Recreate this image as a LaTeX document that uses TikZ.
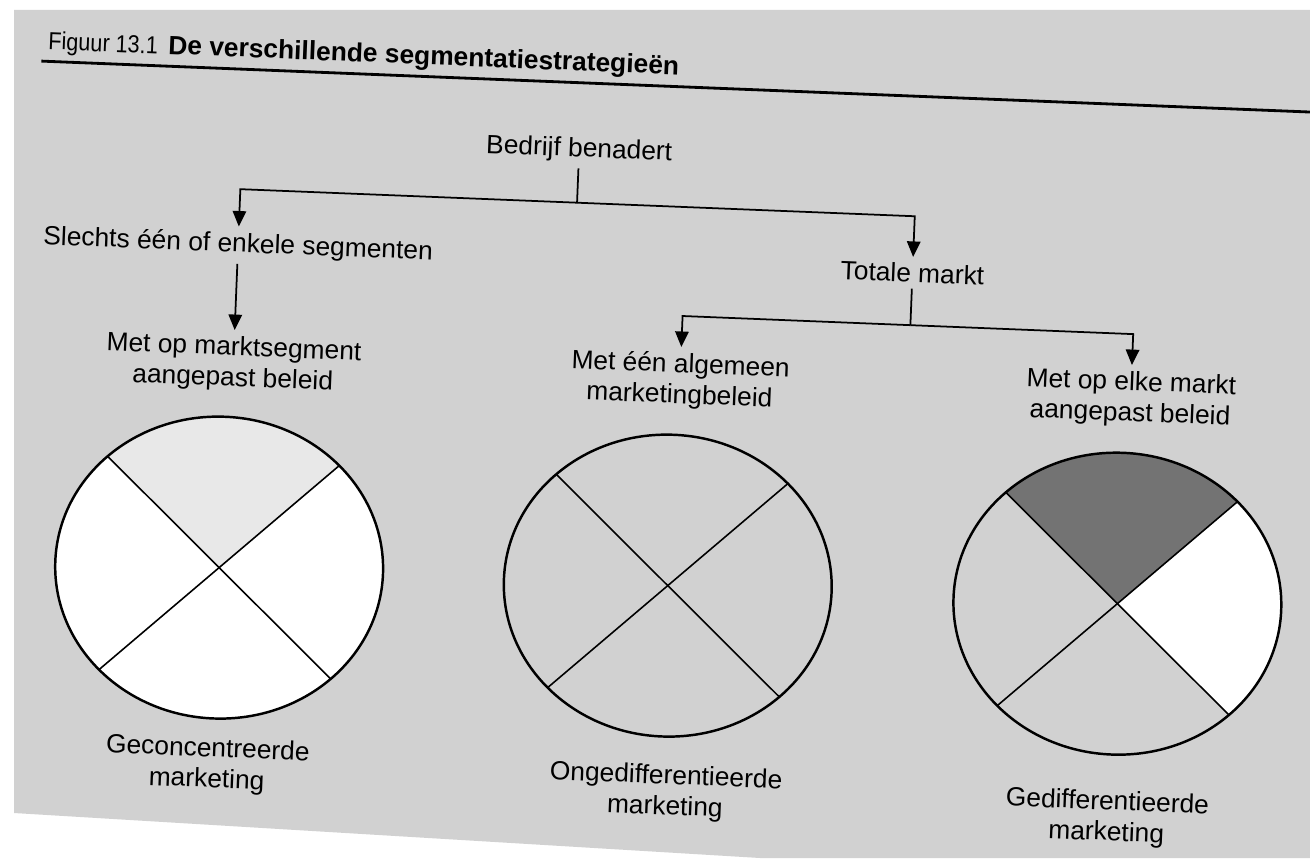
\documentclass[tikz,border=0pt]{standalone}
\usepackage{fontspec}
\setmainfont{Liberation Sans}
\newfontfamily\narrowfig{Liberation Sans}[FakeStretch=0.88]
\usetikzlibrary{arrows.meta,calc}
\definecolor{paper}{gray}{0.82}
\definecolor{lightq}{gray}{0.91}
\definecolor{darkq}{gray}{0.45}

\begin{document}
\begin{tikzpicture}[x=0.02cm,y=-0.02cm,
	lbl/.style={font=\fontsize{15}{17.5}\selectfont, align=center},
	conn/.style={line width=1pt},
	arr/.style={line width=1pt,-{Triangle[width=0.27cm,length=0.31cm]}},
	disc/.style={line width=1.4pt},
	cross/.style={line width=0.9pt},
	oval/.style={x radius=3.28cm,y radius=3.02cm}]
	\useasboundingbox (0,0) rectangle (1310,858);
	\fill[white] (0,0) rectangle (1310,858);
	% the scanned page
	\fill[paper] (14,10) -- (1310,10) -- (1310,858) -- (760,858) -- (14,813) -- cycle;

	\begin{scope}[rotate around={-2.3:(655,430)}, transform shape]
	\node[font=\narrowfig\fontsize{14}{16}\selectfont, anchor=base west, inner xsep=0] (fig) at (33,74) {Figuur 13.1};
	\node[font=\bfseries\fontsize{15}{18}\selectfont, anchor=base west, inner xsep=0] (titel) at (153,74) {De verschillende segmentatiestrategieën};
	\draw[line width=1.6pt] (27,86) -- (1330,86);

	\node[lbl,anchor=base] (bedrijf) at (568,160) {Bedrijf benadert};
	\node[lbl,anchor=base] (slechts) at (231,269) {Slechts één of enkele segmenten};
	\node[lbl,anchor=base] (totale) at (906,272) {Totale markt};
	\node[lbl,anchor=north] (segment) at (231,347) {Met op marktsegment\\aangepast beleid};
	\node[lbl,anchor=north] (algemeen) at (678,346) {Met één algemeen\\marketingbeleid};
	\node[lbl,anchor=north] (elke) at (1129,346) {Met op elke markt\\aangepast beleid};

	\coordinate (j1) at (568,206);
	\coordinate (j2) at (906,315);
	\draw[conn] (bedrijf.south) -- (j1);
	\draw[arr] (j1) -| (slechts.north);
	\draw[arr] (j1) -| (totale.north);
	\draw[arr] (slechts.south) -- (segment.north);
	\draw[conn] (totale.south) -- (j2);
	\draw[arr] (j2) -| (algemeen.north);
	\draw[arr] (j2) -| (elke.north);

	% three markets
	\coordinate (c1) at (225,585);
	\coordinate (c2) at (674,585);
	\coordinate (c3) at (1124,585);

	\fill[white] (c1) ellipse [oval];
	\fill[lightq] (c1) -- ($(c1)+(45:3.28cm and 3.02cm)$) arc[start angle=45,end angle=135,oval] -- cycle;
	\fill[white] (c3) -- ($(c3)+(-45:3.28cm and 3.02cm)$) arc[start angle=-45,end angle=45,oval] -- cycle;
	\fill[darkq] (c3) -- ($(c3)+(45:3.28cm and 3.02cm)$) arc[start angle=45,end angle=135,oval] -- cycle;

	\draw[disc] (c1) ellipse [oval];
	\draw[cross] ($(c1)+(45:3.28cm and 3.02cm)$) -- ($(c1)+(225:3.28cm and 3.02cm)$);
	\draw[cross] ($(c1)+(135:3.28cm and 3.02cm)$) -- ($(c1)+(315:3.28cm and 3.02cm)$);
	\draw[disc] (c2) ellipse [oval];
	\draw[cross] ($(c2)+(45:3.28cm and 3.02cm)$) -- ($(c2)+(225:3.28cm and 3.02cm)$);
	\draw[cross] ($(c2)+(135:3.28cm and 3.02cm)$) -- ($(c2)+(315:3.28cm and 3.02cm)$);
	\draw[disc] (c3) ellipse [oval];
	\draw[cross] ($(c3)+(45:3.28cm and 3.02cm)$) -- ($(c3)+(225:3.28cm and 3.02cm)$);
	\draw[cross] ($(c3)+(135:3.28cm and 3.02cm)$) -- ($(c3)+(315:3.28cm and 3.02cm)$);

	\node[lbl,anchor=north] (gecon) at (221,749) {Geconcentreerde\\marketing};
	\node[lbl,anchor=north] (ongedif) at (680,758) {Ongedifferentieerde\\marketing};
	\node[lbl,anchor=north] (gedif) at (1122,766) {Gedifferentieerde\\marketing};
	\end{scope}
\end{tikzpicture}
\end{document}
